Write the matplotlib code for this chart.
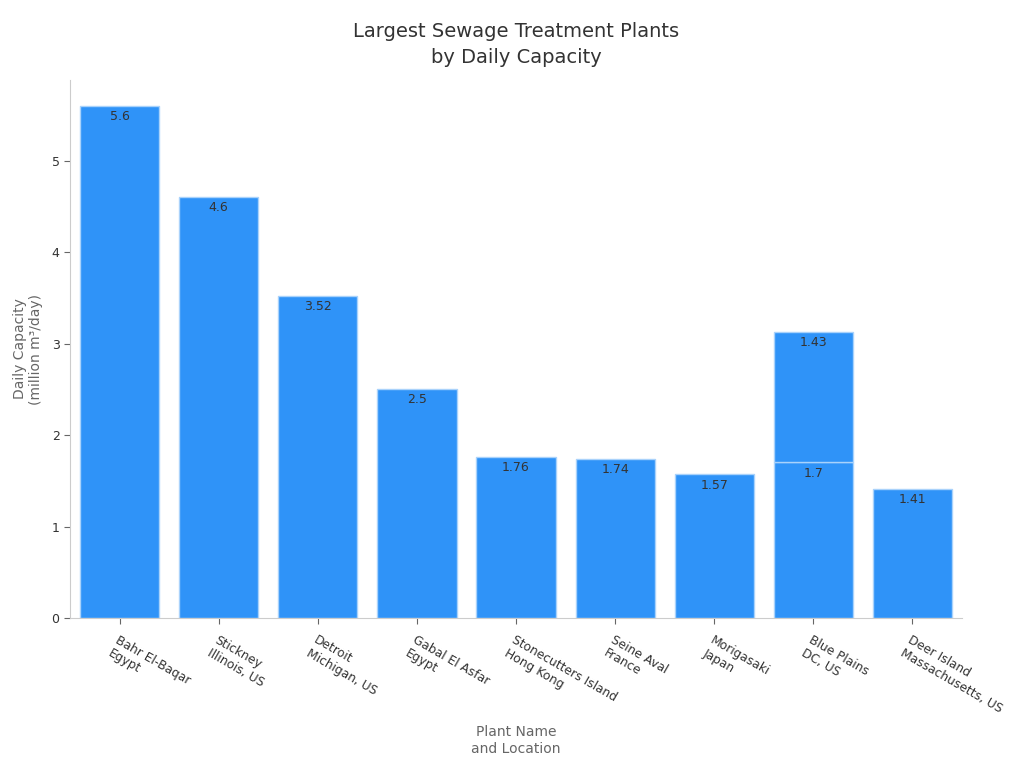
import numpy as np
import matplotlib.pyplot as plt
import matplotlib.transforms as mtransforms

# plant, location, daily capacity (million m3/day); Blue Plains listed twice
plants = [
    "Bahr El-Baqar\nEgypt",
    "Stickney\nIllinois, US",
    "Detroit\nMichigan, US",
    "Gabal El Asfar\nEgypt",
    "Stonecutters Island\nHong Kong",
    "Seine Aval\nFrance",
    "Morigasaki\nJapan",
    "Blue Plains\nDC, US",
    "Blue Plains\nDC, US",
    "Deer Island\nMassachusetts, US",
]
capacity = [5.6, 4.6, 3.52, 2.5, 1.76, 1.74, 1.57, 1.7, 1.43, 1.41]

categories = list(dict.fromkeys(plants))
xpos = {c: i for i, c in enumerate(categories)}

bar_color = "#2f93f8"
text_color = "#333333"
axis_gray = "#666666"

fig = plt.figure(figsize=(10.24, 7.68), dpi=100)
ax = fig.add_axes([0.0684, 0.1953, 0.8711, 0.7005])

bottoms = {c: 0.0 for c in categories}
for name, val in zip(plants, capacity):
    x = xpos[name]
    b = bottoms[name]
    ax.bar(x, val, bottom=b, width=0.8, color=bar_color,
           edgecolor="#a9d2fb", linewidth=1)
    ax.annotate(f"{val:g}", xy=(x, b + val), xytext=(0, -3),
                textcoords="offset points", ha="center", va="top",
                fontsize=9, color=text_color)
    bottoms[name] = b + val

ax.set_xlim(-0.5, len(categories) - 0.5)
ax.set_ylim(0, max(capacity) * 1.05)

ax.set_xticks(range(len(categories)))
ax.set_xticklabels(categories, rotation=-30, ha="left", rotation_mode="anchor",
                   fontsize=8.8, color=text_color)
# nudge rotated labels a little to the right, like the original
shift = mtransforms.ScaledTranslation(4 / 72, 0, fig.dpi_scale_trans)
for lbl in ax.get_xticklabels():
    lbl.set_transform(lbl.get_transform() + shift)
ax.set_yticks([0, 1, 2, 3, 4, 5])
ax.tick_params(axis="y", labelsize=9, labelcolor=text_color, color=axis_gray, length=4)
ax.tick_params(axis="x", color=axis_gray, length=4, pad=7)

for side in ["top", "right"]:
    ax.spines[side].set_visible(False)
for side in ["left", "bottom"]:
    ax.spines[side].set_color("#cccccc")

ax.set_ylabel("Daily Capacity\n(million m³/day)", fontsize=10, color=axis_gray, labelpad=6)
ax.set_xlabel("Plant Name\nand Location", fontsize=10, color=axis_gray, labelpad=6)
ax.set_title("Largest Sewage Treatment Plants\nby Daily Capacity",
             fontsize=14, color=text_color, pad=12, linespacing=1.5)

fig.savefig("out.png", dpi=100)
